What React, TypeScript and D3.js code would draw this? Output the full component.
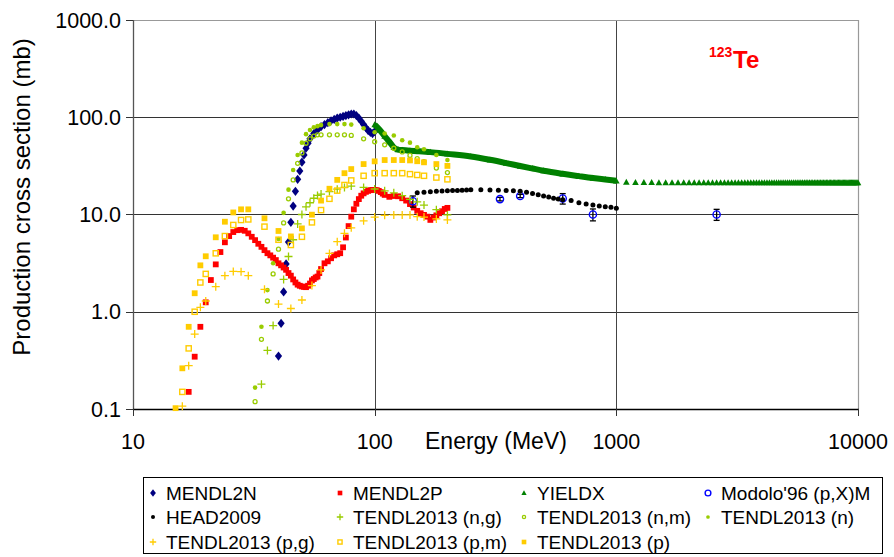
import React from 'react';
import * as d3 from 'd3';

const xTicks = [10, 100, 1000, 10000];
const xTickLabels = ['10', '100', '1000', '10000'];
const yTicks = [0.1, 1, 10, 100, 1000];
const yTickLabels = ['0.1', '1.0', '10.0', '100.0', '1000.0'];

// MENDL2N
const mendl2nE = [40,41,42,43,44,45,46,47,48,49,50,51,52,53,54,56,58,60,62,64,66,68,70,72,74,76,78,80,82,84,86,88,90,92,94,96,98,100];
const mendl2nS = [0.35,0.76,1.6,3.1,5.2,8.3,12.2,17.3,23,28,34.5,41,48,54,60,68,74,80,84,88,92,95,98,100,102,104,106,108,108,104,98,91,84,78,73,70,68,71];

// MENDL2P
const mendl2pE = [17,18,19,20,21,22,23,24,25,26,27,28,29,30,31,32,33,34,35,36,37,38,39,40,41,42,43,44,45,46,47,48,49,50,51,52,53,54,55,56,57,58,59,60,62,64,66,68,70,72,74,76,78,80,82,84,86,88,90,92,94,96,98,100,102,104,106,108,110,115,120,125,130,135,140,145,150,155,160,165,170,175,180,185,190,195,200];
const mendl2pS = [0.15,0.345,0.7,1.25,2.12,3.07,4.11,5.18,6.0,6.6,6.9,6.95,6.8,6.4,5.9,5.45,5.0,4.65,4.3,4.0,3.8,3.6,3.4,3.15,3.0,2.85,2.7,2.5,2.35,2.15,2.0,1.9,1.85,1.82,1.8,1.79,1.85,1.95,2.1,2.17,2.25,2.3,2.5,2.75,3.15,3.3,3.55,3.8,3.9,4.0,4.6,5.8,7.6,9.5,11.3,12.9,14.4,15.6,16.5,17.1,17.5,17.8,17.9,17.9,17.8,17.5,17.0,16.4,15.9,15.2,15.5,15.4,14.7,13.9,12.8,11.8,10.9,10.3,9.9,9.5,8.8,9.3,9.8,10.3,10.8,11.4,11.7];

// YIELDX (dense band up to 1000 MeV, then 100 MeV steps)
const yieldxE = [100,105,110,115,120,125,130,140,150,170,200,250,300,350,400,450,500,600,700,800,900,1000];
const yieldxS = [84,74,64,56,49,46.5,46,45.3,44.8,43.8,42,39.5,36.5,33.8,31.5,29.7,28.2,26.2,24.8,23.7,22.9,22.2];
const yieldxTailE = [1100,1200,1300,1400,1500,1600,1700,1800,1900,2000,2100,2200,2300,2400,2500,2600,2700,2800,2900,3000,3100,3200,3300,3400,3500,3600,3700,3800,3900,4000,4100,4200,4300,4400,4500,4600,4700,4800,4900,5000,5100,5200,5300,5400,5500,5600,5700,5800,5900,6000,6100,6200,6300,6400,6500,6600,6700,6800,6900,7000,7100,7200,7300,7400,7500,7600,7700,7800,7900,8000,8100,8200,8300,8400,8500,8600,8700,8800,8900,9000,9100,9200,9300,9400,9500,9600,9700,9800,9900,10000];
const yieldxTailS = [21.5,21.4,21.4,21.4,21.3,21.3,21.3,21.3,21.3,21.3,21.3,21.3,21.3,21.3,21.3,21.3,21.3,21.3,21.3,21.3,21.3,21.3,21.3,21.3,21.3,21.3,21.3,21.3,21.3,21.3,21.3,21.3,21.3,21.3,21.3,21.3,21.3,21.3,21.3,21.3,21.2,21.2,21.2,21.2,21.2,21.2,21.2,21.2,21.2,21.2,21.2,21.2,21.2,21.2,21.2,21.2,21.2,21.2,21.2,21.2,21.2,21.2,21.2,21.2,21.2,21.2,21.2,21.2,21.2,21.2,21.2,21.2,21.2,21.2,21.2,21.2,21.2,21.2,21.2,21.2,21.2,21.2,21.2,21.2,21.2,21.2,21.2,21.2,21.2,21.2];

// Modolo'96 (p,X)M
const modoloE = [144, 330, 400, 600, 800, 2600];
const modoloS = [13.7, 14.4, 15.5, 14.6, 10.0, 10.0];
const modoloErr = [1.8, 0.6, 0.6, 1.8, 1.4, 1.3];

// HEAD2009
const headE = [150,160,170,180,190,200,210,220,230,240,250,275,300,325,350,375,400,425,450,475,500,525,550,575,600,650,700,750,800,850,900,950,1000];
const headS = [16.7,16.9,17.1,17.3,17.4,17.5,17.6,17.7,17.8,17.9,18.0,18.0,17.9,17.8,17.7,17.5,17.3,16.9,16.4,16.0,15.5,15.1,14.7,14.4,14.2,13.9,13.2,12.8,12.5,12.2,12.0,11.9,11.6];

// TENDL2013 (n,g)
const tNgE = [34,36,38,42,44,46,48,50,52,54,56,58,60,65,70,75,80,90,100,110,120,130,140,150,160,180,200];
const tNgS = [0.18,0.40,0.72,2.15,3.7,5.5,8.0,10.0,12.0,13.2,14.7,15.7,16.2,17.2,18.2,19.0,19.6,19.0,18.3,17.5,16.7,15.6,14.3,13.5,12.5,11.2,9.9];

// TENDL2013 (n,m)
const tNmE = [32,34,36,38,40,42,44,46,48,50,52,54,56,58,60,65,70,75,80,90,100,110,120,130,140,150,160,180,200];
const tNmS = [0.119,0.52,1.29,2.45,4.4,8.2,14.5,22.7,33.6,43,54,60,64,66,66,66,66,66,65,60,56,52,48,44,40.5,37.6,35,30,27];

// TENDL2013 (n)
const tNE = [32,34,36,38,40,42,44,46,48,50,52,54,56,58,60,65,70,75,80,90,100,110,120,130,140,150,160,180,200];
const tNS = [0.166,0.70,1.67,3.15,5.6,10.4,18,28.7,40.9,54.8,67,74,79,81,83,85,85,85,84,77,70,68,65,58,54.8,49.2,46.8,40.9,36.3];

// TENDL2013 (p,g)
const tPgE = [16,17,18,19,20,22,24,26,28,30,35,40,45,50,55,60,65,70,75,80,90,100,110,120,130,140,150,160,180,200];
const tPgS = [0.107,0.279,0.59,1.11,1.29,1.81,2.35,2.6,2.58,2.35,1.70,1.2,1.08,1.32,1.86,2.69,3.98,5.25,6.4,7.3,8.6,9.4,9.8,9.9,9.9,9.9,9.5,9.4,9.0,8.8];

// TENDL2013 (p,m)
const tPmE = [16,17,18,19,20,22,24,26,28,30,35,40,45,50,55,60,65,70,75,80,90,100,110,120,130,140,150,160,180,200];
const tPmS = [0.15,0.42,1.0,2.0,2.45,3.99,6.0,7.8,8.78,8.9,7.5,5.5,4.86,5.9,8.3,11.1,14.5,17.6,20.1,22.4,25,26.6,26.6,26.6,26.6,26,25.5,25,24,23];

// TENDL2013 (p)
const tPE = [15,16,17,18,19,20,22,24,26,28,30,35,40,45,50,55,60,65,70,75,80,90,100,110,120,130,140,150,160,180,200];
const tPS = [0.102,0.262,0.70,1.55,3.0,3.72,5.83,8.43,10.5,11.3,11.3,9.14,6.77,5.95,7.2,9.96,13.9,18.4,22.7,26.6,29.3,33,35.2,36.3,36.3,36.3,36,35.3,34.4,33,31.6];

const legendNames = [
  'MENDL2N', 'MENDL2P', 'YIELDX', "Modolo'96 (p,X)M",
  'HEAD2009', 'TENDL2013 (n,g)', 'TENDL2013 (n,m)', 'TENDL2013 (n)',
  'TENDL2013 (p,g)', 'TENDL2013 (p,m)', 'TENDL2013 (p)',
];
const legendTypes = [
  'diamond', 'squareRed', 'triangle', 'circleBlue',
  'dotBlack', 'plusGreen', 'ringGreen', 'dotGreen',
  'plusGold', 'sqOpenGold', 'sqGold',
];

const NAVY = '#000080';
const RED = '#FF0000';
const GREEN = '#008000';
const BLUE = '#0000FF';
const LIME = '#99CC00';
const GOLD = '#FFCC00';

function marker(type: string, cx: number, cy: number, key: any, s = 1) {
  switch (type) {
    case 'diamond':
      return <path key={key} d={`M${cx},${cy - 4.6 * s}L${cx + 3.6 * s},${cy}L${cx},${cy + 4.6 * s}L${cx - 3.6 * s},${cy}Z`} fill={NAVY} />;
    case 'squareRed':
      return <rect key={key} x={cx - 2.9 * s} y={cy - 2.9 * s} width={5.8 * s} height={5.8 * s} fill={RED} />;
    case 'triangle':
      return <path key={key} d={`M${cx},${cy - 3.4 * s}L${cx + 3.3 * s},${cy + 2.6 * s}L${cx - 3.3 * s},${cy + 2.6 * s}Z`} fill={GREEN} />;
    case 'circleBlue':
      return <circle key={key} cx={cx} cy={cy} r={3.6 * s} fill="none" stroke={BLUE} strokeWidth={1.4} />;
    case 'dotBlack':
      return <circle key={key} cx={cx} cy={cy} r={2.5 * s} fill="#000" />;
    case 'plusGreen':
      return <path key={key} d={`M${cx - 4 * s},${cy}H${cx + 4 * s}M${cx},${cy - 4 * s}V${cy + 4 * s}`} stroke={LIME} strokeWidth={1.3} fill="none" />;
    case 'ringGreen':
      return <circle key={key} cx={cx} cy={cy} r={2 * s} fill="none" stroke={LIME} strokeWidth={1.3} />;
    case 'dotGreen':
      return <circle key={key} cx={cx} cy={cy} r={2.3 * s} fill={LIME} />;
    case 'plusGold':
      return <path key={key} d={`M${cx - 4 * s},${cy}H${cx + 4 * s}M${cx},${cy - 4 * s}V${cy + 4 * s}`} stroke={GOLD} strokeWidth={1.3} fill="none" />;
    case 'sqOpenGold':
      return <rect key={key} x={cx - 2.6 * s} y={cy - 2.6 * s} width={5.2 * s} height={5.2 * s} fill="none" stroke={GOLD} strokeWidth={1.4} />;
    case 'sqGold':
      return <rect key={key} x={cx - 2.9 * s} y={cy - 2.9 * s} width={5.8 * s} height={5.8 * s} fill={GOLD} />;
    default:
      return null;
  }
}

export default function App() {
  const x = d3.scaleLog().domain([10, 10000]).range([133, 858]);
  const y = d3.scaleLog().domain([0.1, 1000]).range([409, 20]);
  const px = (v: number) => Math.round(x(v)) + 0.5;
  const py = (v: number) => Math.round(y(v)) + 0.5;
  const font = 'Liberation Sans, Arial, Helvetica, sans-serif';

  const series = (E: number[], S: number[], type: string, name: string) =>
    <g key={name}>{E.map((e, i) => marker(type, x(e), y(S[i]), name + i))}</g>;

  const yieldPts = yieldxE.map((e, i) => [e, yieldxS[i]] as [number, number]);
  const band = d3.line<[number, number]>()
    .x(d => x(d[0]))
    .y(d => y(d[1]))
    .curve(d3.curveMonotoneX)(yieldPts) || '';

  const legendCols = [153, 340, 524, 708];
  const legendRows = [493, 517, 542];

  return (
    <svg width={894} height={557} style={{ position: 'absolute', left: 0, top: 0, background: '#fff' }} fontFamily={font}>
      <rect x={0} y={0} width={894} height={557} fill="#fff" />
      {/* gridlines */}
      {[1, 10, 100].map(v => (
        <line key={'hg' + v} x1={133} x2={858} y1={py(v)} y2={py(v)} stroke="#333" strokeWidth={1} />
      ))}
      {[100, 1000].map(v => (
        <line key={'vg' + v} x1={px(v)} x2={px(v)} y1={20} y2={409} stroke="#444" strokeWidth={1} />
      ))}
      {/* frame */}
      <line x1={133} x2={858.5} y1={20.5} y2={20.5} stroke="#999" strokeWidth={1.2} />
      <line x1={858.5} x2={858.5} y1={20} y2={409} stroke="#999" strokeWidth={1.2} />
      <line x1={133.5} x2={133.5} y1={20} y2={409} stroke="#555" strokeWidth={1.3} />
      <line x1={133} x2={859} y1={409.5} y2={409.5} stroke="#000" strokeWidth={1.3} />
      {yTicks.map((v, i) => (
        <g key={'yt' + v}>
          <line x1={126} x2={133} y1={py(v)} y2={py(v)} stroke="#333" />
          <text x={121} y={y(v) + 7.5} textAnchor="end" fontSize={21.5} fill="#000">{yTickLabels[i]}</text>
        </g>
      ))}
      {xTicks.map((v, i) => (
        <g key={'xt' + v}>
          <line x1={px(v)} x2={px(v)} y1={409} y2={416} stroke="#333" />
          <text x={x(v)} y={449} textAnchor="middle" fontSize={21.5} fill="#000">{xTickLabels[i]}</text>
        </g>
      ))}
      <text x={425} y={449} fontSize={23} fill="#000">Energy (MeV)</text>
      <text transform="translate(30,197) rotate(-90)" textAnchor="middle" fontSize={24} fill="#000">Production cross section (mb)</text>

      {/* series, in legend order */}
      {series(mendl2nE, mendl2nS, 'diamond', 'm2n')}
      {series(mendl2pE, mendl2pS, 'squareRed', 'm2p')}
      <path d={band} fill="none" stroke={GREEN} strokeWidth={6} />
      {series(yieldxE, yieldxS, 'triangle', 'yx')}
      {series(yieldxTailE, yieldxTailS, 'triangle', 'yxt')}
      <g>
        {modoloE.map((e, i) => {
          const cx = x(e);
          const y1 = y(modoloS[i] + modoloErr[i]);
          const y2 = y(modoloS[i] - modoloErr[i]);
          return (
            <g key={'mo' + i}>
              <line x1={cx} x2={cx} y1={y1} y2={y2} stroke="#000" strokeWidth={1.3} />
              <line x1={cx - 3} x2={cx + 3} y1={y1} y2={y1} stroke="#000" strokeWidth={1.3} />
              <line x1={cx - 3} x2={cx + 3} y1={y2} y2={y2} stroke="#000" strokeWidth={1.3} />
              {marker('circleBlue', cx, y(modoloS[i]), 'moc' + i)}
            </g>
          );
        })}
      </g>
      {series(headE, headS, 'dotBlack', 'head')}
      {series(tNgE, tNgS, 'plusGreen', 'tng')}
      {series(tNmE, tNmS, 'ringGreen', 'tnm')}
      {series(tNE, tNS, 'dotGreen', 'tn')}
      {series(tPgE, tPgS, 'plusGold', 'tpg')}
      {series(tPmE, tPmS, 'sqOpenGold', 'tpm')}
      {series(tPE, tPS, 'sqGold', 'tp')}

      {/* isotope label */}
      <text x={709} y={57} fontSize={14} fontWeight="bold" fill={RED}>123</text>
      <text x={733} y={68} fontSize={24} fontWeight="bold" fill={RED}>Te</text>

      {/* legend */}
      <rect x={143.5} y={477.5} width={739} height={76} fill="#fff" stroke="#000" strokeWidth={1} />
      {legendNames.map((n, i) => {
        const c = legendCols[i % 4];
        const r = legendRows[Math.floor(i / 4)];
        return (
          <g key={'lg' + i}>
            {marker(legendTypes[i], c, r, 'lgm' + i, 0.8)}
            <text x={c + 13} y={r + 6.5} fontSize={19} fill="#000">{n}</text>
          </g>
        );
      })}
    </svg>
  );
}
